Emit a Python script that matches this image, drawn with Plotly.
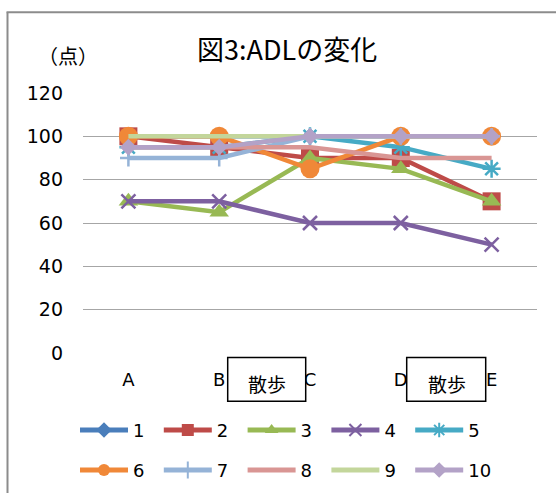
import plotly.graph_objects as go

# ADL scores (points) for ten subjects at five assessment points
categories = ["A", "B", "C", "D", "E"]
series_names = ["1", "2", "3", "4", "5", "6", "7", "8", "9", "10"]
s1 = [100, 100, 100, 100, 100]
s2 = [100, 95, 90, 90, 70]
s3 = [70, 65, 90, 85, 70]
s4 = [70, 70, 60, 60, 50]
s5 = [95, 95, 100, 95, 85]
s6 = [100, 100, 85, 100, 100]
s7 = [90, 90, 100, 100, 100]
s8 = [95, 95, 95, 90, 90]
s9 = [100, 100, 100, 100, 100]
s10 = [95, 95, 100, 100, 100]
values = [s1, s2, s3, s4, s5, s6, s7, s8, s9, s10]

y_ticks = [0, 20, 40, 60, 80, 100, 120]

colors = ["#4A7EBB", "#BE4B48", "#98B954", "#7D60A0", "#46AAC5",
          "#F08838", "#95B3D7", "#D99694", "#C3D69B", "#B3A2C7"]
symbols = ["diamond", "square", "triangle-up", "x-thin", "asterisk",
           "circle", "cross-thin", None, None, "diamond"]
sizes = [13, 18, 17, 14, 15, 19, 12, 0, 0, 13]

W, H = 556, 493
L, R, T, B = 83, 19, 92.7, 140.3
PW, PH = W - L - R, H - T - B

FONT = "DejaVu Sans, Noto Sans CJK JP, sans-serif"


def px_x(x):
    return (x - L) / PW


def px_y(y):
    return (H - B - y) / PH


fig = go.Figure()
for i, (name, vals) in enumerate(zip(series_names, values)):
    sym = symbols[i]
    line_sym = sym is not None and (sym.endswith("-thin") or sym == "asterisk")
    marker = dict(
        symbol=sym if sym else "circle",
        size=sizes[i],
        color=colors[i],
        line=dict(width=2.5 if line_sym else 0, color=colors[i]),
    )
    fig.add_trace(go.Scatter(
        x=categories, y=vals, name=name,
        mode="lines+markers" if sym else "lines",
        line=dict(color=colors[i], width=4.5),
        marker=marker,
        legend="legend" if i < 5 else "legend2",
    ))

legend_common = dict(
    orientation="h", xanchor="left", yanchor="middle",
    xref="paper", yref="paper",
    font=dict(family=FONT, size=18, color="#000"),
    entrywidth=20.8, entrywidthmode="pixels",
    itemwidth=48, itemsizing="constant",
    bgcolor="rgba(0,0,0,0)", borderwidth=0,
)


def label(text, x, y, size):
    return dict(text=text, x=px_x(x), y=px_y(y), xref="paper", yref="paper",
                xanchor="center", yanchor="middle", showarrow=False,
                font=dict(family="Noto Sans CJK JP", size=size, color="#000"))


shapes = [
    # chart frame (left and top edges)
    dict(type="line", xref="paper", yref="paper",
         x0=px_x(7.5), x1=px_x(7.5), y0=px_y(H + 5), y1=px_y(12),
         line=dict(color="#8C8C8C", width=2)),
    dict(type="line", xref="paper", yref="paper",
         x0=px_x(6.5), x1=px_x(W + 5), y0=px_y(12), y1=px_y(12),
         line=dict(color="#8C8C8C", width=2)),
]
annotations = [
    label("図3:ADLの変化", 287, 48, 27),
    label("（点）", 67.5, 55, 20),
]
# text boxes marking the walks between sessions
for x0, x1 in [(227.7, 305.7), (406.7, 485.7)]:
    shapes.append(dict(type="rect", xref="paper", yref="paper", layer="above",
                       x0=px_x(x0), x1=px_x(x1), y0=px_y(401), y1=px_y(357.3),
                       fillcolor="white", line=dict(color="#000", width=1.5)))
    annotations.append(label("散歩", (x0 + x1) / 2 + 0.5, 383, 19))

fig.update_layout(
    width=W, height=H,
    margin=dict(l=L, r=R, t=T, b=B, autoexpand=False),
    paper_bgcolor="white", plot_bgcolor="white",
    font=dict(family=FONT, size=18, color="#000"),
    showlegend=True,
    legend=dict(x=px_x(75), y=px_y(430), **legend_common),
    legend2=dict(x=px_x(75), y=px_y(470), **legend_common),
    xaxis=dict(type="category", range=[-0.5, 4.5], showgrid=False, zeroline=False,
               showline=False, ticks="", ticklabelstandoff=14,
               tickfont=dict(family=FONT, size=18, color="#000")),
    yaxis=dict(range=[0, 120], tickvals=y_ticks, showgrid=True, gridcolor="#A6A6A6",
               gridwidth=1, zeroline=False, showline=False, ticks="",
               ticklabelstandoff=19, tickfont=dict(family=FONT, size=19, color="#000")),
    shapes=shapes,
    annotations=annotations,
)

fig.write_html("out.html")
